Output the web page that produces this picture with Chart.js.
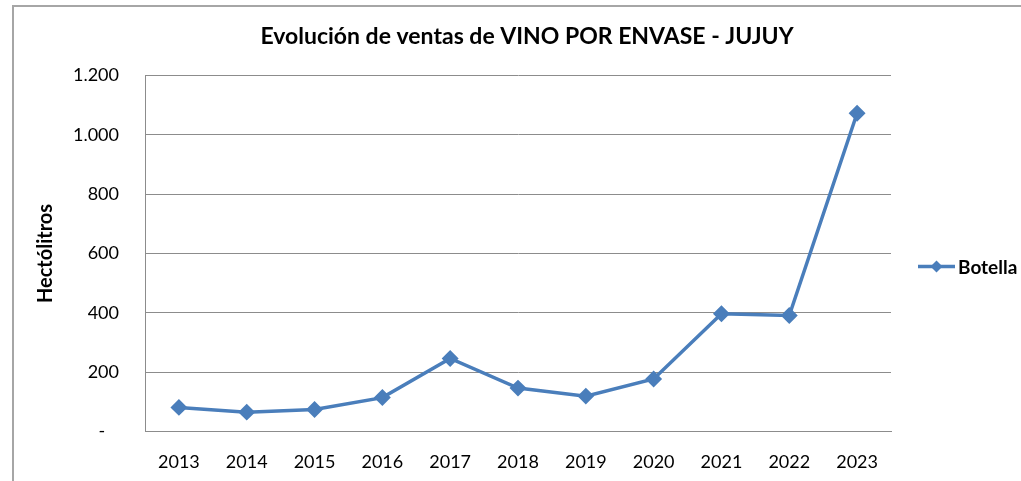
<!DOCTYPE html>
<html>
<head>
<meta charset="utf-8">
<script src="https://cdn.jsdelivr.net/npm/chart.js@4"></script>
<style>
  body { margin: 0; background: #fff; overflow: hidden; }
  #frame { position: absolute; left: 12px; top: 5px; width: 1009px; height: 476px;
           border-left: 2px solid #a6a6a6; border-top: 2px solid #a6a6a6; box-sizing: border-box; }
  #sales-chart { position: absolute; left: 0; top: 0; }
</style>
</head>
<body>
<div id="frame"></div>
<canvas id="sales-chart" width="1021" height="481"></canvas>
<script>
const years = ['2013', '2014', '2015', '2016', '2017', '2018', '2019', '2020', '2021', '2022', '2023'];
const botella = [81, 65, 74, 114, 246, 146, 119, 177, 397, 391, 1073];
const seriesName = 'Botella';
const lineColor = '#4a7ebb';

const ctx = document.getElementById('sales-chart').getContext('2d');

// legend entry drawn by hand: line with a diamond in the middle, then the name
const legendItem = {
  id: 'legendItem',
  afterDraw(chart) {
    const { ctx, chartArea } = chart;
    const x = chartArea.right + 27;
    const y = (chartArea.top + chartArea.bottom) / 2 + 13;
    ctx.save();
    ctx.strokeStyle = lineColor;
    ctx.lineWidth = 3.5;
    ctx.beginPath();
    ctx.moveTo(x, y);
    ctx.lineTo(x + 37, y);
    ctx.stroke();
    ctx.fillStyle = lineColor;
    ctx.beginPath();
    ctx.moveTo(x + 18.5, y - 6);
    ctx.lineTo(x + 24.5, y);
    ctx.lineTo(x + 18.5, y + 6);
    ctx.lineTo(x + 12.5, y);
    ctx.closePath();
    ctx.fill();
    ctx.fillStyle = '#000';
    ctx.font = 'bold 19px Lato';
    ctx.textBaseline = 'middle';
    ctx.fillText(chart.data.datasets[0].label, x + 40, y + 1);
    ctx.restore();
  }
};

new Chart(ctx, {
  type: 'line',
  data: {
    labels: years,
    datasets: [{
      label: seriesName,
      data: botella,
      borderColor: lineColor,
      backgroundColor: lineColor,
      borderWidth: 3.5,
      pointStyle: 'rectRot',
      pointRadius: 6,
      pointHoverRadius: 6,
      tension: 0
    }]
  },
  options: {
    responsive: false,
    animation: false,
    layout: { padding: { left: 33, right: 0, top: 0, bottom: -12 } },
    plugins: {
      legend: { display: false },
      tooltip: { enabled: false },
      title: {
        display: true,
        text: 'Evolución de ventas de VINO POR ENVASE - JUJUY',
        color: '#000',
        font: { family: 'Lato', size: 23, weight: 'bold' },
        padding: { top: 23, bottom: 25 }
      }
    },
    scales: {
      x: {
        offset: true,
        grid: { display: false, drawTicks: false },
        border: { display: true, color: '#8c8c8c', width: 1 },
        ticks: { color: '#000', font: { family: 'Lato', size: 18 }, padding: 20, maxRotation: 0 }
      },
      y: {
        min: 0,
        max: 1200,
        grid: { color: '#8c8c8c', lineWidth: 1, drawTicks: false },
        border: { display: true, color: '#8c8c8c', width: 1 },
        ticks: {
          stepSize: 200,
          color: '#000',
          padding: 26,
          font: { family: 'Lato', size: 18 },
          callback: v => v === 0 ? '-   ' : String(v).replace(/\B(?=(\d{3})+(?!\d))/g, '.')
        },
        title: {
          display: true,
          text: 'Hectólitros',
          color: '#000',
          font: { family: 'Lato', size: 20, weight: 'bold' },
          padding: { top: 1, bottom: 0 }
        },
        afterFit(scale) { scale.width = 112; }
      },
      // empty band on the right that holds the legend entry
      legendBand: {
        type: 'linear',
        position: 'right',
        grid: { display: false },
        border: { display: false },
        ticks: { display: false },
        afterFit(scale) { scale.width = 130; }
      }
    }
  },
  plugins: [legendItem]
});
</script>
</body>
</html>
